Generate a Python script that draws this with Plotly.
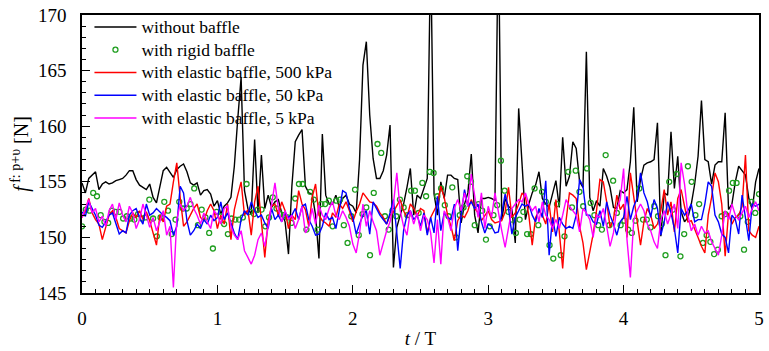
import numpy as np
import plotly.graph_objects as go

# Force on the tank wall over five periods, one record per baffle configuration
f_no_baffle = [
    154.9, 154.0, 155.3, 155.6, 155.9, 154.3, 154.8, 155.0, 154.8, 154.9,
    155.1, 155.2, 155.3, 155.6, 156.0, 156.0, 155.2, 154.7, 154.5, 154.3,
    154.8, 153.6, 153.1, 154.7, 156.0, 156.3, 155.8, 155.4, 156.1, 156.4,
    156.6, 155.9, 154.9, 154.7, 154.9, 153.8, 154.2, 154.3, 153.9, 152.8,
    153.3, 152.1, 152.8, 153.1, 153.6, 156.4, 160.6, 164.4, 154.2, 152.6,
    152.1, 158.8, 152.2, 157.4, 152.6, 153.8, 152.7, 153.2, 153.4, 152.2,
    151.4, 148.5, 154.6, 158.6, 159.2, 159.7, 154.6, 154.0, 153.9, 152.0,
    148.1, 159.3, 153.8, 153.0, 153.0, 153.8, 152.7, 153.5, 153.8, 153.0,
    152.8, 152.2, 157.0, 165.5, 167.6, 161.0, 157.1, 155.3, 155.3, 156.0,
    157.4, 160.1, 147.3, 150.9, 152.0, 153.0, 154.5, 156.2, 152.0, 153.8,
    153.5, 154.5, 155.3, 176.0, 153.9, 152.0, 155.0, 153.5, 155.6, 155.6,
    155.3, 155.2, 151.3, 153.0, 154.0, 157.5, 152.0, 150.4, 153.5, 153.5,
    153.6, 153.5, 153.3, 178.0, 151.6, 153.5, 152.8, 152.5, 149.5, 161.6,
    157.0, 151.6, 153.0, 154.0, 154.7, 155.9, 153.5, 153.0, 152.7, 154.0,
    155.1, 152.7, 159.0, 154.6, 155.5, 158.6, 158.0, 155.0, 154.5, 166.7,
    153.6, 152.4, 153.3, 152.8, 156.2, 155.5, 154.5, 152.7, 152.6, 154.2,
    154.0, 154.3, 156.8, 161.7, 153.2, 155.2, 156.5, 156.7, 156.8, 157.0,
    160.3, 150.1, 154.0, 153.8, 159.5, 154.4, 157.3, 152.3, 151.4, 151.8,
    153.0, 154.8, 157.3, 162.3, 157.0, 156.8, 154.8, 156.5, 156.8, 156.8,
    161.2, 152.5, 153.0, 155.0, 156.4, 156.0, 155.6, 153.5, 152.5, 155.0,
    156.2,
]

f_rigid = [
    151.0, 152.5, 152.4, 154.0, 153.7, 152.0, 151.4, 151.3, 152.4, 152.3,
    152.3, 151.7, 151.9, 151.7, 151.6, 152.1, 151.7, 151.8, 153.4, 151.7,
    150.1, 151.8, 153.2, 152.4, 150.3, 151.6, 153.2, 152.6, 152.6, 153.0,
    154.4,
    151.1, 152.5, 151.8, 150.4, 149.0, 152.3, 151.9, 151.2, 150.3, 151.7,
    151.6, 151.6, 151.8, 154.8, 152.3, 152.1, 152.5, 152.5, 151.0, 151.8,
    153.6, 152.6, 152.1, 152.0, 151.8, 151.3, 153.5, 154.8,
    154.8, 150.7, 154.1, 153.4, 150.7, 153.0, 153.0, 153.3, 151.0, 153.3,
    153.4, 151.1, 149.5, 151.9, 154.3, 150.2, 152.1, 152.7, 148.4, 154.0,
    158.4, 157.6, 151.9, 150.7, 152.4, 151.9, 153.4, 152.7, 152.0, 154.2,
    154.2, 152.2, 154.9, 153.7, 155.9, 155.8, 153.7, 154.4, 152.9, 151.9,
    154.5, 150.0, 152.0, 152.7, 155.5, 155.0, 151.1, 153.0, 152.4, 149.8,
    151.0, 152.0, 152.9, 156.9, 154.2, 152.3, 151.6, 150.4, 151.6, 152.3,
    150.3,
    150.3, 154.4, 151.1, 154.1, 153.2, 149.3, 148.1, 153.0, 148.4, 150.1,
    155.9, 152.7, 156.0, 154.1, 152.8, 156.2, 153.1, 152.0, 151.1, 150.7,
    157.4, 151.1, 155.1, 152.2, 151.1, 151.5, 150.7, 150.4, 151.5, 154.4,
    151.6,
    151.6, 150.9, 152.8, 151.9, 151.2, 148.4, 155.0, 152.5, 155.7, 148.3,
    150.3, 156.4, 155.0, 152.0, 153.0, 149.5, 150.2, 149.6, 148.5, 148.9,
    151.9, 152.1, 154.2, 154.9, 154.9, 151.9, 148.9, 151.4, 153.2, 152.2,
    153.9,
]

f_elastic_500 = [
    151.8, 152.4, 153.5, 152.2, 151.6, 151.2, 149.8, 151.0, 152.0, 152.4,
    151.8, 150.8, 150.6, 150.4, 151.5, 152.2, 151.8, 152.4, 151.6, 152.3,
    151.5, 150.5, 149.3, 152.0, 151.4, 152.8, 153.0, 155.0, 156.7, 153.6,
    151.0, 151.4, 152.0, 152.6, 153.0, 151.8, 151.5, 152.4, 153.0, 152.4,
    150.8, 152.0, 151.2, 153.0, 149.8, 152.5, 153.8, 155.0, 152.0, 152.5,
    150.2, 153.2, 154.6, 151.6, 148.2, 151.5, 152.8, 153.0, 152.0, 153.2,
    152.4, 150.8, 152.0, 151.6, 154.2, 153.0, 152.5, 151.0, 153.6, 154.8,
    152.0, 151.5, 151.3, 151.0, 152.2, 151.8, 153.0, 152.6, 153.2, 152.4,
    151.4, 152.3, 153.0, 154.0, 153.6, 153.2, 153.1, 152.8, 152.2, 151.8,
    151.2, 152.0, 152.3, 152.8, 153.4, 152.4, 151.8, 153.0, 152.6, 151.9,
    152.6, 152.4, 150.4, 151.8, 152.4, 153.0, 154.6, 153.6, 152.0, 151.0,
    149.7, 151.5, 152.0, 151.8, 152.4, 153.4, 152.6, 152.2, 151.5, 152.0,
    152.4, 151.6, 151.3, 151.4, 151.5, 152.3, 154.5, 151.8, 152.2, 153.0,
    154.0, 153.6, 152.0, 149.3, 151.8, 152.4, 152.0, 151.2, 153.0, 150.5,
    153.4, 150.5, 147.2, 151.5, 154.0, 153.8, 153.5, 151.0, 149.5, 147.1,
    148.6, 150.3, 152.4, 155.2, 155.0, 153.2, 150.9, 151.6, 153.8, 152.5,
    153.0, 150.0, 155.8, 153.6, 151.5, 149.3, 151.4, 152.6, 152.0, 150.8,
    151.2, 152.4, 154.3, 152.0, 153.2, 150.5, 153.5, 154.3, 152.8, 151.4,
    151.5, 150.8, 150.0, 149.2, 148.6, 152.0, 153.6, 155.8, 155.0, 153.0,
    148.3, 152.2, 151.2, 151.8, 152.0, 152.8, 157.4, 150.6, 150.2, 150.0,
    151.0,
]

f_elastic_50 = [
    152.3, 151.9, 153.2, 152.6, 152.0, 151.1, 150.9, 151.4, 152.0, 152.2,
    151.2, 150.3, 150.6, 150.4, 152.0, 152.4, 152.6, 151.8, 151.2, 153.0,
    152.0, 152.2, 152.6, 152.3, 152.0, 151.8, 151.5, 150.2, 151.0, 154.6,
    154.0, 151.5, 150.2, 150.6, 151.2, 150.8, 151.6, 151.2, 152.0, 151.5,
    151.8, 153.2, 151.6, 152.2, 151.2, 150.4, 149.8, 151.6, 152.4, 152.0,
    153.2, 152.4, 151.8, 152.0, 151.3, 150.8, 152.6, 151.6, 152.0, 151.4,
    152.2, 151.8, 152.0, 152.6, 151.6, 152.8, 153.0, 151.6, 151.0, 150.2,
    150.3, 151.0, 152.2, 151.6, 151.8, 150.8, 152.4, 154.2, 154.0, 152.6,
    151.8, 150.3, 151.2, 152.0, 152.4, 150.3, 153.2, 152.6, 152.0, 151.6,
    151.2, 152.2, 153.4, 150.4, 147.2, 150.6, 152.0, 152.4, 151.6, 152.0,
    151.0, 152.2, 150.2, 151.8, 150.4, 153.7, 150.6, 152.2, 151.8, 151.6,
    153.0, 148.8, 152.0, 154.3, 152.8, 153.2, 152.6, 153.0, 151.4, 150.4,
    151.2, 151.0, 150.4, 150.5, 152.2, 153.9, 152.6, 150.3, 151.8, 152.4,
    153.0, 152.8, 153.0, 152.0, 151.4, 152.6, 151.8, 155.1, 148.4, 151.8,
    150.1, 151.8, 151.2, 150.8, 151.0, 150.8, 152.0, 155.2, 154.6, 152.0,
    152.0, 151.4, 151.2, 152.4, 151.0, 153.2, 152.0, 151.2, 150.2, 151.4,
    151.8, 153.7, 151.6, 152.8, 153.5, 155.8, 154.0, 153.2, 151.8, 153.4,
    152.6, 150.2, 151.4, 153.2, 152.2, 150.8, 148.6, 152.6, 152.0, 152.4,
    153.0, 151.4, 151.6, 151.6, 153.0, 155.0, 154.6, 152.0, 151.4, 150.3,
    150.0, 148.6, 152.0, 151.6, 150.3, 153.8, 151.6, 149.7, 153.0, 152.8,
    153.0,
]

f_elastic_5 = [
    151.8, 152.6, 153.4, 152.2, 152.6, 151.4, 151.9, 151.0, 152.4, 153.0,
    151.6, 153.1, 152.0, 151.4, 152.8, 152.2, 150.8, 151.6, 153.0, 152.0,
    150.9, 151.8, 150.6, 151.4, 152.4, 150.2, 151.0, 145.5, 151.6, 153.0,
    152.4, 152.8, 153.6, 152.6, 152.0, 151.2, 152.2, 151.4, 150.8, 152.4,
    152.0, 151.2, 152.6, 152.8, 151.0, 150.2, 149.8, 150.6, 148.8, 148.2,
    147.6, 148.4, 149.8, 150.4, 149.2, 151.0, 152.8, 154.9, 152.6, 151.4,
    152.4, 151.6, 152.0, 150.8, 151.6, 152.8, 150.4, 151.0, 152.6, 151.2,
    152.9, 152.0, 151.6, 152.6, 153.2, 152.0, 151.6, 152.4, 151.8, 151.0,
    149.4, 148.6, 150.4, 153.0, 151.0, 152.4, 151.4, 150.6, 148.4, 149.6,
    150.6, 151.4, 153.0, 155.8, 152.4, 151.0, 150.2, 152.4, 151.2, 152.2,
    150.6, 152.0, 151.6, 150.4, 147.7, 151.6, 147.6, 152.4, 151.8, 150.6,
    152.6, 153.4, 152.4, 154.0, 152.8, 155.7, 153.6, 151.8, 154.0, 150.8,
    152.8, 151.8, 154.0, 152.2, 150.6, 149.1, 151.0, 152.6, 153.0, 153.4,
    153.2, 154.0, 153.0, 152.4, 152.8, 151.4, 153.2, 152.0, 151.6, 150.8,
    151.6, 150.8, 152.0, 153.4, 152.8, 152.4, 152.0, 150.5, 152.6, 152.2,
    151.6, 150.0, 152.0, 151.8, 152.6, 151.0, 149.2, 150.4, 152.6, 153.4,
    156.2, 149.8, 146.4, 151.6, 152.4, 153.0, 152.4, 151.2, 150.6, 149.6,
    149.0, 151.6, 152.4, 151.2, 152.2, 153.0, 150.8, 156.7, 154.8, 152.0,
    150.6, 151.2, 150.2, 151.0, 150.4, 150.6, 149.6, 149.0, 148.4, 150.2,
    152.4, 151.6, 153.0, 152.0, 151.6, 152.2, 152.8, 151.8, 152.6, 153.2,
    152.4,
]

series_names = [
    "without baffle",
    "with rigid baffle",
    "with elastic baffle, 500 kPa",
    "with elastic baffle, 50 kPa",
    "with elastic baffle, 5 kPa",
]

T_END = 5.0
SERIF = "Liberation Serif"


def time_axis(values):
    return np.linspace(0.0, T_END, len(values))


def legend_label(text):
    # full-size text inside a legend whose row height follows a smaller base font
    return f"<span style='font-size:17.5px'>{text}</span>"


fig = go.Figure()

fig.add_trace(go.Scatter(
    x=time_axis(f_no_baffle), y=f_no_baffle, name=legend_label(series_names[0]),
    mode="lines", line=dict(color="#000000", width=1.4),
))
fig.add_trace(go.Scatter(
    x=time_axis(f_rigid), y=f_rigid, name=legend_label(series_names[1]),
    mode="markers",
    marker=dict(symbol="circle-open", size=5, color="#1f9e1f", line=dict(width=1.3)),
))
fig.add_trace(go.Scatter(
    x=time_axis(f_elastic_500), y=f_elastic_500, name=legend_label(series_names[2]),
    mode="lines", line=dict(color="#ff0000", width=1.4),
))
fig.add_trace(go.Scatter(
    x=time_axis(f_elastic_50), y=f_elastic_50, name=legend_label(series_names[3]),
    mode="lines", line=dict(color="#0000ff", width=1.4),
))
fig.add_trace(go.Scatter(
    x=time_axis(f_elastic_5), y=f_elastic_5, name=legend_label(series_names[4]),
    mode="lines", line=dict(color="#ff00ff", width=1.4),
))

axis_common = dict(
    showline=True, linecolor="#000000", linewidth=1.5, mirror=True,
    ticks="inside", tickcolor="#000000", tickwidth=1.2, ticklen=8,
    showgrid=False, zeroline=False,
    tickfont=dict(family=SERIF, size=19, color="#000000"),
)

fig.update_xaxes(
    range=[0, 5], dtick=1, tick0=0,
    minor=dict(dtick=0.1, ticks="inside", ticklen=4, tickcolor="#000000", tickwidth=1),
    title=dict(text="<i>t</i> / T", font=dict(family=SERIF, size=19, color="#000000"), standoff=4),
    ticklabelstandoff=7,
    **axis_common,
)
fig.update_yaxes(
    range=[145, 170], dtick=5, tick0=145,
    minor=dict(dtick=1, ticks="inside", ticklen=4, tickcolor="#000000", tickwidth=1),
    title=dict(text="<i>f</i><sup> f: p+υ</sup> [N]",
               font=dict(family=SERIF, size=20, color="#000000"), standoff=4),
    ticklabelstandoff=10,
    **axis_common,
)

fig.update_layout(
    width=769, height=351,
    margin=dict(l=82, r=5, t=12, b=53),
    paper_bgcolor="#ffffff", plot_bgcolor="#ffffff",
    font=dict(family=SERIF, size=17, color="#000000"),
    showlegend=True,
    legend=dict(
        x=0.011, y=1.016, xanchor="left", yanchor="top",
        bgcolor="rgba(0,0,0,0)", borderwidth=0,
        font=dict(family=SERIF, size=15.2, color="#000000"),
        itemwidth=42, tracegroupgap=0,
    ),
)

fig.write_html("out.html")
